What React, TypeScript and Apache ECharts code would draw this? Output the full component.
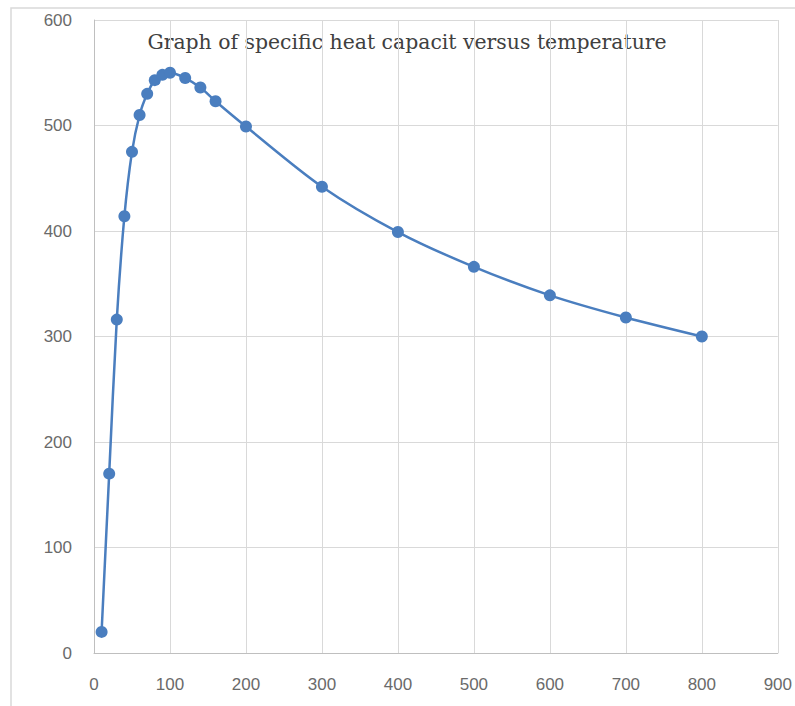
import React, { useEffect, useRef } from "react";
import * as echarts from "echarts";

const titleText = "Graph of specific heat capacit versus temperature";
const temperatures = [10, 20, 30, 40, 50, 60, 70, 80, 90, 100, 120, 140, 160, 200, 300, 400, 500, 600, 700, 800];
const heatCapacity = [20, 170, 316, 414, 475, 510, 530, 543, 548, 550, 545, 536, 523, 499, 442, 399, 366, 339, 318, 300];

export default function App() {
  const ref = useRef<HTMLDivElement>(null);
  useEffect(() => {
    if (!ref.current) return;
    const chart = echarts.init(ref.current, null, { renderer: "svg" });
    const data = temperatures.map((t, i) => [t, heatCapacity[i]]);
    chart.setOption({
      animation: false,
      backgroundColor: "#ffffff",
      graphic: [
        {
          type: "rect",
          shape: { x: 11, y: 8, width: 820, height: 740 },
          style: { fill: "none", stroke: "#d9d9d9", lineWidth: 1.5 },
          silent: true,
        },
        {
          type: "text",
          x: 407,
          y: 42,
          style: {
            text: titleText,
            fontFamily: "DejaVu Serif",
            fontSize: 20.4,
            fill: "#404040",
            align: "center",
            verticalAlign: "middle",
          },
        },
      ],
      grid: { left: 94, right: 17, top: 20, bottom: 53, containLabel: false },
      xAxis: {
        type: "value",
        min: 0,
        max: 900,
        interval: 100,
        axisLine: { show: true, lineStyle: { color: "#bfbfbf", width: 1 } },
        axisTick: { show: false },
        splitLine: { show: true, lineStyle: { color: "#d9d9d9", width: 1 } },
        axisLabel: { color: "#6a6a6a", fontSize: 17, fontFamily: "Liberation Sans", margin: 23 },
      },
      yAxis: {
        type: "value",
        min: 0,
        max: 600,
        interval: 100,
        axisLine: { show: true, lineStyle: { color: "#bfbfbf", width: 1 } },
        axisTick: { show: false },
        splitLine: { show: true, lineStyle: { color: "#d9d9d9", width: 1 } },
        axisLabel: { color: "#6a6a6a", fontSize: 17, fontFamily: "Liberation Sans", margin: 22 },
      },
      series: [
        {
          type: "line",
          data,
          smooth: 0.3,
          symbol: "circle",
          symbolSize: 12,
          lineStyle: { color: "#4a7ebf", width: 2.5 },
          itemStyle: { color: "#4a7ebf" },
        },
      ],
    });
    return () => chart.dispose();
  }, []);
  return (
    <div
      ref={ref}
      style={{ position: "absolute", left: 0, top: 0, width: 795, height: 706 }}
    />
  );
}
